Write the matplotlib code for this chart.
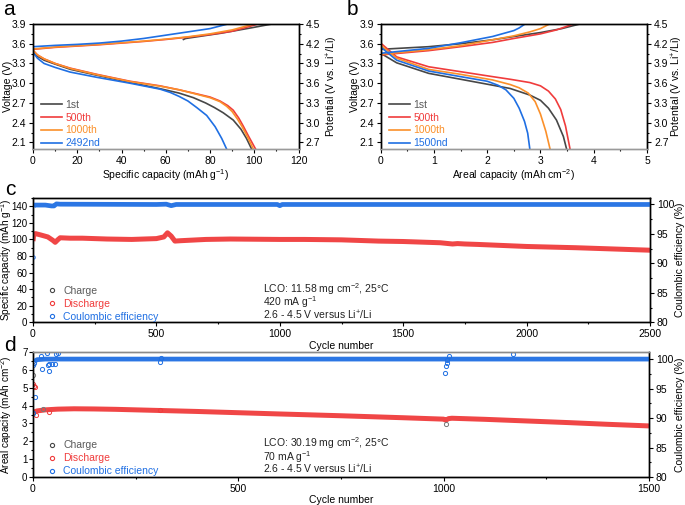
import numpy as np
import matplotlib
matplotlib.use("Agg")
import matplotlib.pyplot as plt
from matplotlib.lines import Line2D
from matplotlib.ticker import MultipleLocator

plt.rcParams['font.family'] = ['Liberation Sans', 'DejaVu Sans']
plt.rcParams['mathtext.fontset'] = 'custom'
plt.rcParams['mathtext.rm'] = 'Liberation Sans'
plt.rcParams['mathtext.it'] = 'Liberation Sans:italic'
plt.rcParams['font.size'] = 7.5

GRAY = '#474747'
RED = '#f03c3c'
ORANGE = '#fb902a'
BLUE = '#1f6fe3'
FS = 7.5

# ---- panel a: voltage profiles vs specific capacity ----
a_dis_1st_x = [0, 2, 5, 10, 17, 29, 44, 57, 66, 72.5, 78, 82, 86, 90.5, 94, 96.5, 98.8]
a_dis_1st_y = [3.48, 3.41, 3.35, 3.29, 3.21, 3.12, 3.01, 2.92, 2.85, 2.78, 2.70, 2.63, 2.55, 2.44, 2.3, 2.16, 2.0]
a_dis_500_x = [0, 2, 5, 10, 16.7, 28.8, 43.8, 57.4, 66, 72.5, 80, 84.5, 88, 90.5, 93, 95, 97.5, 100.6]
a_dis_500_y = [3.50, 3.43, 3.37, 3.30, 3.23, 3.135, 3.03, 2.96, 2.9, 2.85, 2.79, 2.73, 2.66, 2.59, 2.47, 2.35, 2.19, 2.0]
a_dis_1000_x = [0, 2, 5, 10, 16.7, 28.8, 43.8, 57.4, 66, 72.5, 80, 84.5, 87.5, 90, 92.5, 94.5, 97, 99.6]
a_dis_1000_y = [3.50, 3.43, 3.37, 3.30, 3.225, 3.13, 3.025, 2.955, 2.9, 2.845, 2.78, 2.72, 2.65, 2.57, 2.45, 2.34, 2.18, 2.0]
a_dis_2492_x = [0, 2, 5, 10, 16.7, 28.8, 43.8, 57.4, 62, 66, 70, 74, 78.5, 82.3, 85.3, 87.5]
a_dis_2492_y = [3.47, 3.38, 3.30, 3.24, 3.17, 3.09, 3.0, 2.91, 2.86, 2.80, 2.73, 2.63, 2.51, 2.34, 2.16, 2.0]

a_chg_1st_x = [68, 69, 75, 85, 95, 100, 108]
a_chg_1st_y = [3.665, 3.68, 3.71, 3.76, 3.82, 3.85, 3.9]
a_chg_500_x = [0, 10, 20, 30, 40, 50, 60, 70, 80, 90, 101.8]
a_chg_500_y = [3.515, 3.545, 3.565, 3.585, 3.61, 3.635, 3.665, 3.70, 3.74, 3.79, 3.9]
a_chg_1000_x = [0, 10, 20, 30, 40, 50, 60, 70, 80, 90, 99.8]
a_chg_1000_y = [3.52, 3.55, 3.57, 3.59, 3.615, 3.64, 3.67, 3.705, 3.75, 3.81, 3.9]
a_chg_2492_x = [0, 10, 20, 30, 40, 50, 60, 70, 80, 88]
a_chg_2492_y = [3.555, 3.575, 3.59, 3.61, 3.64, 3.68, 3.73, 3.78, 3.83, 3.9]

# ---- panel b: voltage profiles vs areal capacity ----
b_dis_1st_x = [0, 0.3, 0.9, 1.5, 2.1, 2.43, 2.8, 3.0, 3.15, 3.3, 3.43, 3.49]
b_dis_1st_y = [3.455, 3.31, 3.15, 3.06, 2.97, 2.92, 2.82, 2.74, 2.62, 2.44, 2.19, 2.0]
b_dis_500_x = [0, 0.3, 0.9, 1.5, 2.1, 2.43, 2.8, 3.0, 3.15, 3.28, 3.38, 3.47, 3.555]
b_dis_500_y = [3.61, 3.40, 3.25, 3.175, 3.10, 3.06, 3.01, 2.96, 2.88, 2.76, 2.6, 2.35, 2.0]
b_dis_1000_x = [0, 0.3, 0.9, 1.5, 2.1, 2.43, 2.6, 2.77, 2.9, 3.0, 3.1, 3.18]
b_dis_1000_y = [3.58, 3.38, 3.21, 3.135, 3.05, 2.98, 2.93, 2.85, 2.72, 2.53, 2.27, 2.0]
b_dis_1500_x = [0, 0.3, 0.9, 1.5, 2.0, 2.2, 2.35, 2.5, 2.6, 2.7, 2.76, 2.8]
b_dis_1500_y = [3.55, 3.35, 3.185, 3.10, 3.03, 2.97, 2.9, 2.77, 2.62, 2.42, 2.24, 2.0]

b_chg_1st_x = [0, 0.9, 1.5, 2.1, 2.5, 3.0, 3.4, 3.74]
b_chg_1st_y = [3.515, 3.555, 3.60, 3.66, 3.71, 3.77, 3.83, 3.9]
b_chg_500_x = [0, 0.9, 1.5, 2.1, 2.5, 3.0, 3.3, 3.62]
b_chg_500_y = [3.43, 3.495, 3.555, 3.62, 3.68, 3.75, 3.81, 3.9]
b_chg_1000_x = [0, 0.9, 1.5, 2.1, 2.5, 2.8, 3.0, 3.17]
b_chg_1000_y = [3.44, 3.51, 3.57, 3.66, 3.72, 3.78, 3.83, 3.9]
b_chg_1500_x = [0, 0.9, 1.5, 2.1, 2.5, 2.6, 2.71]
b_chg_1500_y = [3.455, 3.53, 3.615, 3.71, 3.80, 3.84, 3.9]

# ---- panel c: long cycling, specific capacity ----
c_cyc = [0, 3, 10, 30, 60, 80, 90, 100, 110, 150, 200, 300, 400, 500, 530, 545,
         560, 575, 600, 700, 800, 1000, 1100, 1250, 1400, 1500, 1600, 1650, 1700,
         1720, 1750, 1800, 2000, 2200, 2400, 2500]
c_dis = [98, 106, 107, 105.5, 103, 99, 96.5, 99.5, 102, 101.5, 101.5, 100.5, 100,
         101, 103, 108, 104, 98, 98.5, 100, 100.5, 100, 100, 99.5, 98, 97.5, 96.5,
         96, 94.5, 95, 94.5, 94, 91.5, 90, 88, 87]
c_ce_cyc = [1, 5, 50, 75, 85, 95, 110, 500, 540, 560, 580, 990, 1000, 1010, 2500]
c_ce = [99.7, 99.9, 99.9, 99.75, 99.75, 100.1, 100.05, 100, 100.05, 99.8, 100, 100, 99.8, 100, 100]
c_ce_first = [91.1]

# ---- panel d: long cycling, areal capacity ----
d_cyc = [2, 5, 10, 30, 60, 100, 150, 200, 300, 400, 500, 600, 750, 900, 1000,
         1005, 1012, 1020, 1100, 1200, 1300, 1400, 1500]
d_dis = [3.62, 3.66, 3.7, 3.76, 3.8, 3.82, 3.81, 3.79, 3.73, 3.67, 3.6, 3.53, 3.43,
         3.32, 3.24, 3.18, 3.27, 3.29, 3.23, 3.14, 3.05, 2.95, 2.86]
d_ce_cyc = [3, 10, 30, 60, 300, 1000, 1020, 1500]
d_ce = [99.6, 99.9, 100, 100, 100, 100, 100, 100]
d_dis_pts_x = [1, 3, 5, 7, 40, 309]
d_dis_pts_y = [5.2, 5.1, 5.05, 3.47, 3.65, 3.76]
d_chg_pts_x = [0, 0, 24, 1006]
d_chg_pts_y = [5.7, 3.58, 3.8, 2.95]
d_ce_pts_x = [0, 1, 2, 6, 20, 23, 35, 37, 40, 40, 47, 54, 55, 62, 309, 312,
              1003, 1005, 1007, 1009, 1012, 1169]
d_ce_pts_y = [90.8, 99.0, 99.3, 93.6, 100.6, 98.4, 101.0, 99.0, 98.0, 99.1, 99.1,
              99.1, 100.9, 101.0, 99.5, 100.1, 97.7, 98.8, 99.4, 99.9, 100.5, 100.8]

W, H = 685, 505
fig = plt.figure(figsize=(W / 100, H / 100), dpi=100)


def rect(l, t, r, b):
    return [l / W, 1 - b / H, (r - l) / W, (b - t) / H]


def style(ax, fs=FS, pad=2):
    ax.tick_params(which='both', direction='out', width=0.8, labelsize=fs, pad=pad)
    ax.tick_params(which='major', length=3)
    ax.tick_params(which='minor', length=1.7)
    for s in ax.spines.values():
        s.set_linewidth(1.0)


def voltage_panel(box, curves, xmax, xmaj, xlabel, labels, lx, rx):
    ax = fig.add_axes(rect(*box))
    for (dx, dy, cx, cy), c in zip(curves, [GRAY, RED, ORANGE, BLUE]):
        ax.plot(dx, dy, color=c, lw=1.2)
        ax.plot(cx, cy, color=c, lw=1.2)
    ax.set_xlim(0, xmax)
    ax.set_ylim(2.0, 3.9)
    ax.xaxis.set_major_locator(MultipleLocator(xmaj))
    ax.xaxis.set_minor_locator(MultipleLocator(xmaj / 2))
    ax.yaxis.set_minor_locator(MultipleLocator(0.15))
    ax.set_yticks([2.1, 2.4, 2.7, 3.0, 3.3, 3.6, 3.9])
    ax.set_xlabel(xlabel, labelpad=1, fontsize=FS)
    ax.set_ylabel('Voltage (V)', fontsize=FS)
    ax.yaxis.set_label_coords(lx, 0.5)
    ax.spines['bottom'].set_color('#9a9a9a')
    style(ax)
    r = ax.twinx()
    r.set_ylim(2.6, 4.5)
    r.set_yticks([2.7, 3.0, 3.3, 3.6, 3.9, 4.2, 4.5])
    r.yaxis.set_minor_locator(MultipleLocator(0.15))
    r.set_ylabel('Potential (V vs. Li$^{+}$/Li)', fontsize=FS)
    r.yaxis.set_label_coords(rx, 0.5)
    style(r)
    r.spines['bottom'].set_color('#9a9a9a')
    handles = [Line2D([], [], color=c, lw=1.2) for c in [GRAY, RED, ORANGE, BLUE]]
    leg = ax.legend(handles, labels, loc='lower left', bbox_to_anchor=(0.03, 0.005),
                    frameon=False, fontsize=FS, handlelength=2.0, handletextpad=0.35,
                    labelspacing=0.28, borderpad=0, borderaxespad=0)
    for t, c in zip(leg.get_texts(), ['#5a5a5a', RED, ORANGE, BLUE]):
        t.set_color(c)
    return ax


voltage_panel((33, 24, 298.5, 149),
              [(a_dis_1st_x, a_dis_1st_y, a_chg_1st_x, a_chg_1st_y),
               (a_dis_500_x, a_dis_500_y, a_chg_500_x, a_chg_500_y),
               (a_dis_1000_x, a_dis_1000_y, a_chg_1000_x, a_chg_1000_y),
               (a_dis_2492_x, a_dis_2492_y, a_chg_2492_x, a_chg_2492_y)],
              120, 20, 'Specific capacity (mAh g$^{-1}$)',
              ['1st', '500th', '1000th', '2492nd'], -0.075, 1.10)

voltage_panel((380.7, 24, 647, 149),
              [(b_dis_1st_x, b_dis_1st_y, b_chg_1st_x, b_chg_1st_y),
               (b_dis_500_x, b_dis_500_y, b_chg_500_x, b_chg_500_y),
               (b_dis_1000_x, b_dis_1000_y, b_chg_1000_x, b_chg_1000_y),
               (b_dis_1500_x, b_dis_1500_y, b_chg_1500_x, b_chg_1500_y)],
              5, 1, 'Areal capacity (mAh cm$^{-2}$)',
              ['1st', '500th', '1000th', '1500nd'], -0.078, 1.085)


def cycle_panel(box, xmax, ymax, ymaj, ylabel, rtop, notes, lx, rx):
    ax = fig.add_axes(rect(*box))
    ax.set_xlim(0, xmax)
    ax.set_ylim(0, ymax)
    ax.xaxis.set_major_locator(MultipleLocator(500))
    ax.xaxis.set_minor_locator(MultipleLocator(250))
    ax.yaxis.set_major_locator(MultipleLocator(ymaj))
    ax.yaxis.set_minor_locator(MultipleLocator(ymaj / 2))
    ax.set_xlabel('Cycle number', labelpad=1, fontsize=FS)
    ax.set_ylabel(ylabel, fontsize=7.2)
    ax.yaxis.set_label_coords(lx, 0.5)
    style(ax, 7, 1)
    ax.tick_params(axis='x', labelsize=7.5, pad=2)
    r = ax.twinx()
    r.set_ylim(80, rtop)
    r.yaxis.set_major_locator(MultipleLocator(5))
    r.yaxis.set_minor_locator(MultipleLocator(2.5))
    r.set_ylabel('Coulombic efficiency (%)', fontsize=FS)
    r.yaxis.set_label_coords(rx, 0.5)
    style(r, 7.5, 2)
    for i, s in enumerate(notes):
        ax.text(0.373, 0.268 - i * 0.105, s, transform=ax.transAxes, va='center',
                fontsize=FS, color='#222222')
    handles = [Line2D([], [], ls='none', marker='o', ms=3, mfc='none', mew=0.8, color=c)
               for c in [GRAY, RED, BLUE]]
    leg = r.legend(handles, ['Charge', 'Discharge', 'Coulombic efficiency'],
                   loc='lower left', bbox_to_anchor=(0.022, 0.004), frameon=False,
                   fontsize=FS, handlelength=1.0, handletextpad=0.6, labelspacing=0.3,
                   borderpad=0, borderaxespad=0)
    for t, c in zip(leg.get_texts(), ['#5a5a5a', RED, BLUE]):
        t.set_color(c)
    return ax, r


axc, rc = cycle_panel((33, 198, 650, 322.3), 2500, 150, 20,
                      'Specific capacity (mAh g$^{-1}$)', 101.1,
                      ['LCO: 11.58 mg cm$^{-2}$, 25°C', '420 mA g$^{-1}$',
                       '2.6 - 4.5 V versus Li$^{+}$/Li'], -0.0315, 1.041)
axc.plot(c_cyc, c_dis, color=RED, lw=3.6, solid_capstyle='butt', alpha=0.95)
rc.plot(c_ce_cyc, c_ce, color=BLUE, lw=3.4, solid_capstyle='butt', alpha=0.95)
rc.plot([1], c_ce_first, ls='none', marker='o', ms=2.5, mfc='none', mew=0.7, color=BLUE)

axd, rd = cycle_panel((33, 352, 649, 477), 1500, 7, 1,
                      'Areal capacity (mAh cm$^{-2}$)', 101.2,
                      ['LCO: 30.19 mg cm$^{-2}$, 25°C', '70 mA g$^{-1}$',
                       '2.6 - 4.5 V versus Li$^{+}$/Li'], -0.0315, 1.042)
axd.plot(d_cyc, d_dis, color=RED, lw=3.6, solid_capstyle='butt', alpha=0.95)
axd.plot(d_dis_pts_x, d_dis_pts_y, ls='none', marker='o', ms=3, mfc='none', mew=0.7, color=RED)
axd.plot(d_chg_pts_x, d_chg_pts_y, ls='none', marker='o', ms=3, mfc='none', mew=0.7, color='#777777')
rd.plot(d_ce_cyc, d_ce, color=BLUE, lw=3.4, solid_capstyle='butt', alpha=0.95)
rd.plot(d_ce_pts_x, d_ce_pts_y, ls='none', marker='o', ms=3, mfc='none', mew=0.7, color=BLUE)
axd.spines['top'].set_color('#8a8a8a')
rd.spines['top'].set_color('#8a8a8a')

for lab, x, y in [('a', 3, 15), ('b', 347, 15), ('c', 5, 195), ('d', 4, 351)]:
    fig.text(x / W, 1 - y / H, lab, fontsize=15, va='baseline', ha='left')

fig.savefig('out.png', dpi=100)
